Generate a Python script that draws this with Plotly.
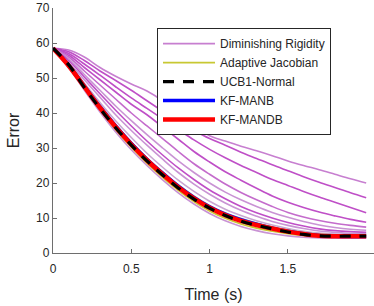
import plotly.graph_objects as go

time_s = [0.0, 0.1, 0.2, 0.3, 0.4, 0.5, 0.6, 0.7, 0.8, 0.9, 1.0,
          1.1, 1.2, 1.3, 1.4, 1.5, 1.6, 1.7, 1.8, 1.9, 2.0]

# Diminishing Rigidity runs (several parameter settings)
dr_a = [58.5, 58.0, 56.0, 53.0, 50.5, 48.3, 46.3, 43.5, 40.0, 36.5, 33.5,
        32.0, 30.5, 29.2, 27.8, 26.3, 25.0, 23.8, 22.5, 21.2, 20.0]
dr_b = [58.5, 57.5, 55.0, 52.0, 49.3, 46.5, 43.5, 40.5, 37.5, 35.0, 32.7,
        30.8, 28.8, 27.0, 25.2, 23.5, 21.8, 20.2, 18.7, 17.2, 15.8]
dr_c = [58.5, 57.0, 54.0, 50.8, 47.5, 44.3, 41.3, 38.3, 35.3, 32.3, 29.6,
        27.2, 25.0, 23.0, 21.0, 19.3, 17.6, 16.0, 14.5, 13.0, 11.5]
dr_d = [58.5, 56.5, 53.0, 49.5, 46.0, 42.5, 39.5, 36.0, 32.5, 29.0, 26.0,
        23.2, 20.8, 18.5, 16.3, 14.5, 13.0, 11.7, 10.6, 9.6, 8.8]
dr_e = [58.5, 56.0, 52.0, 48.0, 44.0, 40.0, 36.3, 32.7, 29.0, 25.5, 22.5,
        19.7, 17.3, 15.2, 13.3, 11.6, 10.3, 9.3, 8.5, 7.9, 7.4]
dr_f = [58.5, 55.5, 51.0, 46.5, 42.0, 37.8, 33.8, 30.0, 26.3, 23.0, 20.0,
        17.4, 15.2, 13.3, 11.6, 10.2, 9.0, 8.0, 7.3, 6.8, 6.5]
dr_g = [58.5, 55.0, 50.3, 45.5, 40.8, 36.3, 32.0, 28.0, 24.3, 21.0, 18.0,
        15.5, 13.3, 11.5, 10.0, 8.7, 7.7, 6.9, 6.4, 6.1, 5.9]
dr_h = [58.5, 54.5, 49.5, 44.5, 39.5, 35.0, 30.8, 26.8, 23.0, 19.7, 16.8,
        14.3, 12.2, 10.5, 9.0, 7.9, 7.0, 6.3, 5.9, 5.6, 5.5]
dr_i = [58.5, 54.0, 48.5, 43.0, 37.8, 33.0, 28.5, 24.5, 20.8, 17.6, 14.8,
        12.5, 10.7, 9.2, 8.0, 7.0, 6.2, 5.7, 5.4, 5.2, 5.1]
dr_j = [58.5, 53.0, 46.5, 40.3, 34.6, 29.5, 25.0, 20.9, 17.2, 14.0, 11.3,
        9.2, 7.6, 6.4, 5.5, 4.9, 4.5, 4.3, 4.2, 4.2, 4.2]
dr_k = [58.5, 53.9, 48.0, 42.2, 36.7, 31.7, 27.2, 23.2, 19.5, 16.3, 13.6,
        11.5, 9.9, 8.6, 7.5, 6.6, 5.9, 5.4, 5.1, 5.0, 5.0]

adaptive_jacobian = [58.5, 53.3, 47.0, 41.0, 35.3, 30.2, 25.7, 21.6, 17.9, 14.7, 12.0,
                     9.9, 8.3, 7.1, 6.2, 5.5, 5.0, 4.7, 4.6, 4.6, 4.6]
ucb1_normal = [58.5, 53.8, 47.3, 41.3, 35.8, 30.8, 26.3, 22.3, 18.6, 15.4, 12.8,
               10.7, 9.1, 7.9, 6.9, 6.0, 5.3, 4.9, 4.8, 4.8, 4.8]
kf_manb = [58.5, 53.7, 47.7, 41.8, 36.3, 31.3, 26.8, 22.8, 19.1, 15.9, 13.2,
           11.1, 9.5, 8.2, 7.1, 6.2, 5.5, 5.0, 4.8, 4.7, 4.7]
kf_mandb = [58.5, 53.5, 47.5, 41.5, 36.0, 31.0, 26.5, 22.5, 18.8, 15.6, 12.9,
            10.8, 9.2, 8.0, 7.0, 6.1, 5.4, 4.9, 4.8, 4.8, 4.8]

x_ticks = [0, 0.5, 1, 1.5]
x_tick_labels = ["0", "0.5", "1", "1.5"]
y_ticks = [0, 10, 20, 30, 40, 50, 60, 70]

DARK = "#bf4fc7"
MID = "#c46ccc"
LIGHT = "#c993d4"

dr_series = [
    (dr_a, LIGHT), (dr_b, DARK), (dr_c, DARK), (dr_d, DARK), (dr_e, MID),
    (dr_f, LIGHT), (dr_g, DARK), (dr_h, LIGHT), (dr_i, "#c9a6d2"),
    (dr_j, LIGHT), (dr_k, "#b8d8b8"),
]

fig = go.Figure()
for i, (ys, col) in enumerate(dr_series):
    fig.add_trace(go.Scatter(
        x=time_s, y=ys, mode="lines", line=dict(color=col if i else "#c77fd0", width=1.6, shape="spline"),
        name="Diminishing Rigidity", legendgroup="dr", showlegend=(i == 0), legendrank=1))

fig.add_trace(go.Scatter(x=time_s, y=adaptive_jacobian, mode="lines",
                         line=dict(color="#c8c832", width=1.6, shape="spline"),
                         name="Adaptive Jacobian", legendgroup="aj", legendrank=2))
fig.add_trace(go.Scatter(x=time_s, y=kf_manb, mode="lines",
                         line=dict(color="#0000ff", width=3.5, shape="spline"),
                         name="KF-MANB", legendgroup="manb", legendrank=4))
fig.add_trace(go.Scatter(x=time_s, y=kf_mandb, mode="lines",
                         line=dict(color="#ff0000", width=4.5, shape="spline"),
                         name="KF-MANDB", legendgroup="mandb", legendrank=5))
fig.add_trace(go.Scatter(x=time_s, y=ucb1_normal, mode="lines",
                         line=dict(color="#000000", width=3.2, dash="11px,9px", shape="spline"),
                         name="UCB1-Normal", legendgroup="ucb", legendrank=3))

axis_col = "#6e6e6e"
font_col = "#262626"
fig.update_layout(
    width=374, height=306,
    margin=dict(l=53, r=0, t=8, b=53),
    paper_bgcolor="white", plot_bgcolor="white",
    font=dict(family="Liberation Sans, Arial, sans-serif", size=12, color=font_col),
    showlegend=True,
    legend=dict(
        x=0.324, y=0.918, xanchor="left", yanchor="top",
        bgcolor="white", bordercolor="#262626", borderwidth=1,
        font=dict(size=12, color=font_col),
        traceorder="grouped", tracegroupgap=0, itemwidth=52,
        entrywidth=175, entrywidthmode="pixels",
    ),
)
fig.update_xaxes(
    range=[0, 2.05], tickvals=x_ticks, ticktext=x_tick_labels, automargin=False,
    showgrid=False, zeroline=False, showline=True, linecolor=axis_col, linewidth=1.3,
    ticks="inside", ticklen=4, tickcolor=axis_col, ticklabelstandoff=4,
    tickfont=dict(size=12, color=font_col),
    title=dict(text="Time (s)", font=dict(size=16, color=font_col), standoff=14),
)
fig.update_yaxes(
    range=[0, 70], tickvals=y_ticks, automargin=False,
    showgrid=False, zeroline=False, showline=True, linecolor=axis_col, linewidth=1.3,
    ticks="inside", ticklen=4, tickcolor=axis_col,
    tickfont=dict(size=12, color=font_col),
    title=dict(text="Error", font=dict(size=16, color=font_col), standoff=12),
)

fig.write_html("out.html", config={"displayModeBar": False},
               post_script="document.body.style.margin='0';")
